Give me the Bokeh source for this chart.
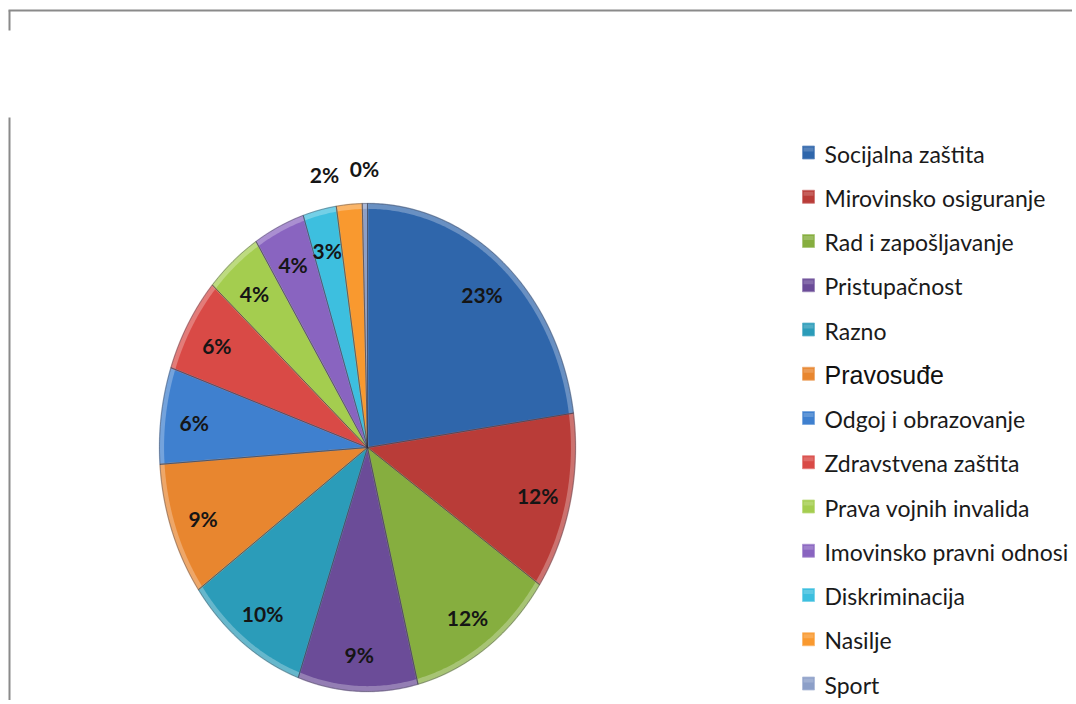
import numpy as np
from bokeh.plotting import figure
from bokeh.models import Range1d
from bokeh.core.properties import value
from bokeh.embed import file_html
from bokeh.resources import INLINE

# ---- data ----
categories = ["Socijalna zaštita", "Mirovinsko osiguranje", "Rad i zapošljavanje",
              "Pristupačnost", "Razno", "Pravosuđe", "Odgoj i obrazovanje",
              "Zdravstvena zaštita", "Prava vojnih invalida", "Imovinsko pravni odnosi",
              "Diskriminacija", "Nasilje", "Sport"]
shares = [22.75, 11.75, 11.6, 9.3, 9.7, 8.8, 6.4, 6.3, 4.4, 4.0, 2.6, 2.0, 0.4]
colors = ["#2F66AB", "#B93C38", "#86AE3F", "#6B4C98", "#2B9CB9", "#E8862F",
          "#3F80CF", "#D94A46", "#A4CD4F", "#8964C0", "#3DBFDF", "#F9992F", "#8C9FC8"]

def lighten(hexcol, t):
    r, g, b = int(hexcol[1:3], 16), int(hexcol[3:5], 16), int(hexcol[5:7], 16)
    r, g, b = [int(c + (255 - c) * t) for c in (r, g, b)]
    return "#%02x%02x%02x" % (r, g, b)

W, H = 1072, 700
p = figure(width=W, height=H, output_backend="svg", toolbar_location=None,
           x_range=Range1d(0, W), y_range=Range1d(H, 0),
           min_border=0, outline_line_color=None)
p.axis.visible = False
p.grid.visible = False
p.background_fill_color = "white"
p.border_fill_color = "white"

# frame lines
p.segment(x0=[8, 9, 9], y0=[10, 10, 117], x1=[W, 9, 9], y1=[10, 30, H],
          line_color="#8a8a8a", line_width=2)

# ---- pie (ellipse) ----
cx, cy, rx, ry = 367, 447, 208, 244
vals = np.array(shares, dtype=float)
frac = vals / vals.sum()
ends = np.cumsum(frac) * 2 * np.pi
starts = ends - frac * 2 * np.pi

def wedge_poly(a0, a1, scale=1.0):
    n = max(int((a1 - a0) / 0.01), 2)
    t = np.linspace(a0, a1, n)
    xs = [cx] + list(cx + rx * scale * np.sin(t)) + [cx]
    ys = [cy] + list(cy - ry * scale * np.cos(t)) + [cy]
    return xs, ys

full_x, full_y, in_x, in_y = [], [], [], []
for a0, a1 in zip(starts, ends):
    xs, ys = wedge_poly(a0, a1)
    full_x.append(xs); full_y.append(ys)
    xs, ys = wedge_poly(a0, a1, 0.978)
    in_x.append(xs); in_y.append(ys)

light = [lighten(c, 0.28) for c in colors]
p.patches(full_x, full_y, fill_color=light, line_color=None)
p.patches(in_x, in_y, fill_color=colors, line_color=None)
p.patches(full_x, full_y, fill_color=None, line_color=light, line_width=1.5, line_alpha=0.5)
p.patches(full_x, full_y, fill_color=None, line_color="#2a2a3a", line_width=0.8, line_alpha=0.5)

# ---- percent labels ----
mids = (starts + ends) / 2
labels = [f"{round(v)}%" for v in shares]
lx, ly = [], []
for i, m in enumerate(mids):
    if shares[i] >= 2.5:
        f = 0.84
        dx, dy = 0, 2
    else:
        f = 1.15
        dx = -22 if i < len(shares) - 1 else 0
        dy = 7 if i < len(shares) - 1 else 2
    lx.append(cx + rx * f * np.sin(m) + dx)
    ly.append(cy - ry * f * np.cos(m) + dy)
p.text(x=lx, y=ly, text=labels, text_align="center", text_baseline="middle",
       text_font=value("Lato"), text_font_style="bold", text_font_size="21px",
       text_color="#151515")

# ---- legend ----
row0, step = 152, 44.25
rows = [row0 + step * i for i in range(len(categories))]
p.rect(x=[808] * len(categories), y=rows, width=12, height=13,
       fill_color=colors, line_color=[lighten(c, 0.3) for c in colors], line_width=0.8)
p.rect(x=[808] * len(categories), y=[r - 3 for r in rows], width=10, height=4,
       fill_color="white", fill_alpha=0.18, line_color=None)

normal = [i for i, c in enumerate(categories) if c != "Pravosuđe"]
special = [i for i, c in enumerate(categories) if c == "Pravosuđe"]
p.text(x=[824] * len(normal), y=[rows[i] + 1 for i in normal],
       text=[categories[i] for i in normal], text_align="left", text_baseline="middle",
       text_font=value("Lato"), text_font_size="23px", text_color="#1a1a1a")
p.text(x=[824] * len(special), y=[rows[i] + 1 for i in special],
       text=[categories[i] for i in special], text_align="left", text_baseline="middle",
       text_font=value("Liberation Sans"), text_font_size="25px", text_color="#111111")

open("out.html", "w").write(file_html(p, INLINE))
